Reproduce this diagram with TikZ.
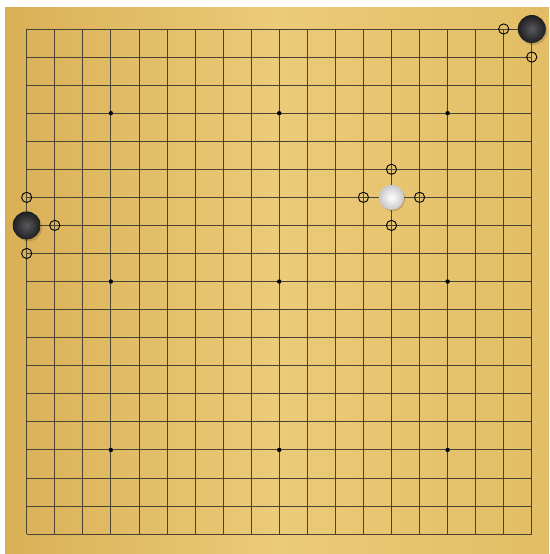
\documentclass[tikz,border=0pt]{standalone}
\usetikzlibrary{shadings}
\definecolor{woodA}{HTML}{DAB056}
\definecolor{woodB}{HTML}{EBCA79}
\definecolor{woodC}{HTML}{E2BD65}
\definecolor{gridc}{HTML}{4A4232}
\definecolor{bsIn}{HTML}{5A5A5C}
\definecolor{bsOut}{HTML}{1E1E20}
\definecolor{wsOut}{HTML}{C8C8CC}
\tikzset{
  gridline/.style={draw=gridc, line width=0.85pt},
  starpt/.style={fill=black},
  marker/.style={draw=black, line width=0.9pt},
  blackstone/.style={circle, minimum size=28pt, inner sep=0pt, shading=radial, inner color=bsIn, outer color=bsOut},
  whitestone/.style={circle, minimum size=25pt, inner sep=0pt, shading=radial, inner color=white, outer color=wsOut},
  stoneshadow/.style={fill=black, opacity=0.15},
}
\begin{document}
\begin{tikzpicture}[x=1pt,y=-1pt]
\useasboundingbox (0,0) rectangle (549,554);
\fill[white] (0,0) rectangle (549,554);
\shade[left color=woodA, right color=woodC, middle color=woodB] (5,7) rectangle (549,554);
\def\s{28.06}
\def\ox{26.7}
\def\oy{29}
% grid
\foreach \i in {0,...,18}{
  \draw[gridline] ({\ox+\i*\s},\oy) -- ({\ox+\i*\s},{\oy+18*\s});
  \draw[gridline] (\ox,{\oy+\i*\s}) -- ({\ox+18*\s},{\oy+\i*\s});
}
% star points
\foreach \c in {3,9,15}{
  \foreach \r in {3,9,15}{
    \fill[starpt] ({\ox+\c*\s},{\oy+\r*\s}) circle (2.2);
  }
}
% markers
\foreach \c/\r in {17/0,18/1,0/6,1/7,0/8,13/5,12/6,14/6,13/7}{
  \draw[marker] ({\ox+\c*\s},{\oy+\r*\s}) circle (5.1);
}
% shadows
\fill[stoneshadow] ({\ox+18*\s+1.5},{\oy+0*\s+2}) circle (14);
\fill[stoneshadow] ({\ox+0*\s+1.5},{\oy+7*\s+2}) circle (14);
\fill[stoneshadow] ({\ox+13*\s+1.2},{\oy+6*\s+1.5}) circle (12.5);
% stones
\node[blackstone] (b1) at ({\ox+18*\s},{\oy+0*\s}) {};
\node[blackstone] (b2) at ({\ox+0*\s},{\oy+7*\s}) {};
\node[whitestone] (w1) at ({\ox+13*\s},{\oy+6*\s}) {};
\end{tikzpicture}
\end{document}
